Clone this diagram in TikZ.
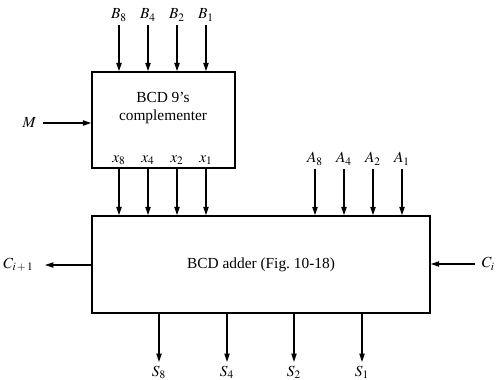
\documentclass[tikz,border=0pt]{standalone}
\usepackage{mathptmx}
\usepackage{fontspec}
\setmainfont{Liberation Serif}
\usetikzlibrary{arrows.meta}

\begin{document}
\begin{tikzpicture}
[->,>={Triangle[length=5.5pt,width=3.4pt]}, x=0.65pt, y=-0.65pt,
			line width=0.9pt, sig/.style={inner sep=2pt},
			blk/.style={draw,rectangle,inner sep=0pt,-}]
\useasboundingbox (0,0) rectangle (497,379);

% the two blocks
\node (comp) at (163.5,120)[blk,minimum width=92.95pt,minimum height=62.4pt] {};
\node (add) at (261,264.5)[blk,minimum width=219.7pt,minimum height=63.05pt] {};
\node (ctxt) at (163,108)[align=center] {BCD 9's\\complementer};
\node (atxt) at (261,265) {BCD adder (Fig.~10-18)};

% inputs B
\node (b8) at (119,25)[sig,anchor=south] {$B_8$};
\node (b4) at (148,25)[sig,anchor=south] {$B_4$};
\node (b2) at (177,25)[sig,anchor=south] {$B_2$};
\node (b1) at (206,25)[sig,anchor=south] {$B_1$};
\draw (b8) -- (b8 |- comp.north);
\draw (b4) -- (b4 |- comp.north);
\draw (b2) -- (b2 |- comp.north);
\draw (b1) -- (b1 |- comp.north);

% complemented outputs x
\node (x8) at (119,160) {$x_8$};
\node (x4) at (148,160) {$x_4$};
\node (x2) at (177,160) {$x_2$};
\node (x1) at (206,160) {$x_1$};
\draw (comp.south -| x8) -- (add.north -| x8);
\draw (comp.south -| x4) -- (add.north -| x4);
\draw (comp.south -| x2) -- (add.north -| x2);
\draw (comp.south -| x1) -- (add.north -| x1);

% inputs A
\node (a8) at (315,169)[sig,anchor=south] {$A_8$};
\node (a4) at (344,169)[sig,anchor=south] {$A_4$};
\node (a2) at (373,169)[sig,anchor=south] {$A_2$};
\node (a1) at (402,169)[sig,anchor=south] {$A_1$};
\draw (a8) -- (a8 |- add.north);
\draw (a4) -- (a4 |- add.north);
\draw (a2) -- (a2 |- add.north);
\draw (a1) -- (a1 |- add.north);

% sums S
\node (s8) at (159,362)[sig,anchor=north] {$S_8$};
\node (s4) at (227,362)[sig,anchor=north] {$S_4$};
\node (s2) at (294,362)[sig,anchor=north] {$S_2$};
\node (s1) at (362,362)[sig,anchor=north] {$S_1$};
\draw (add.south -| s8) -- (s8);
\draw (add.south -| s4) -- (s4);
\draw (add.south -| s2) -- (s2);
\draw (add.south -| s1) -- (s1);

% mode and carries
\node (m) at (43,123)[anchor=east,inner xsep=4pt] {$M$};
\node (cout) at (45,265)[anchor=east,inner xsep=7pt] {$C_{i\,+\,1}$};
\node (cin) at (475,264)[anchor=west,inner xsep=4pt] {$C_i$};
\draw (m) -- (m -| comp.west);
\draw (add.west |- cout) -- (cout);
\draw (cin) -- (cin -| add.east);

\end{tikzpicture}
\end{document}
